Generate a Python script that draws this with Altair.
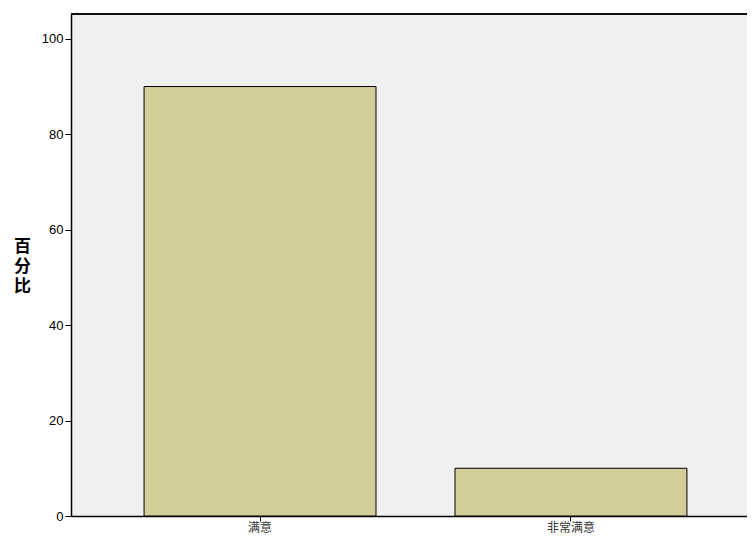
import altair as alt
import pandas as pd

categories = ["满意", "非常满意"]
percents = [90.0, 10.0]
y_ticks = [0, 20, 40, 60, 80, 100]

df = pd.DataFrame({"cat": categories, "pct": percents})

bars = alt.Chart(df).mark_bar(
    fill="#d3ce99", stroke="#000000", strokeWidth=1
).encode(
    x=alt.X("cat:N", sort=categories, title=None,
            scale=alt.Scale(range=[0, 689], paddingInner=0.254, paddingOuter=0.235),
            axis=alt.Axis(labelAngle=0, labelFont="Noto Sans CJK SC", labelFontSize=12,
                          labelColor="#333333", tickColor="#000000", tickSize=5,
                          domainColor="#000000", domainWidth=1.5, labelPadding=1)),
    y=alt.Y("pct:Q", title=["百", "分", "比"],
            scale=alt.Scale(domain=[0, 105.2], nice=False, zero=True),
            axis=alt.Axis(values=y_ticks, labelFont="Liberation Sans", labelFontSize=13,
                          labelColor="#000000", tickColor="#000000", tickSize=6,
                          domainColor="#000000", domainWidth=1.5, grid=False,
                          titleAngle=0, titleFont="Noto Sans CJK SC", titleFontSize=17,
                          titleFontWeight="bold", titleColor="#000000", titleLineHeight=20,
                          titleBaseline="middle", titleAlign="center",
                          titleX=-49, titleY=232, labelPadding=2)),
)

top = alt.Chart(df).mark_rule(color="#000000", strokeWidth=1.5).encode(
    y=alt.value(0), x=alt.value(0), x2=alt.value(700)
)

chart = alt.layer(bars, top).properties(
    width=676, height=502,
    autosize=alt.AutoSizeParams(type="none"),
    padding={"left": 63, "top": 6, "right": 0, "bottom": 17},
).configure_view(fill="#f0f0f0", stroke=None)

chart.save("out.html", embed_options={"renderer": "svg", "actions": False})
